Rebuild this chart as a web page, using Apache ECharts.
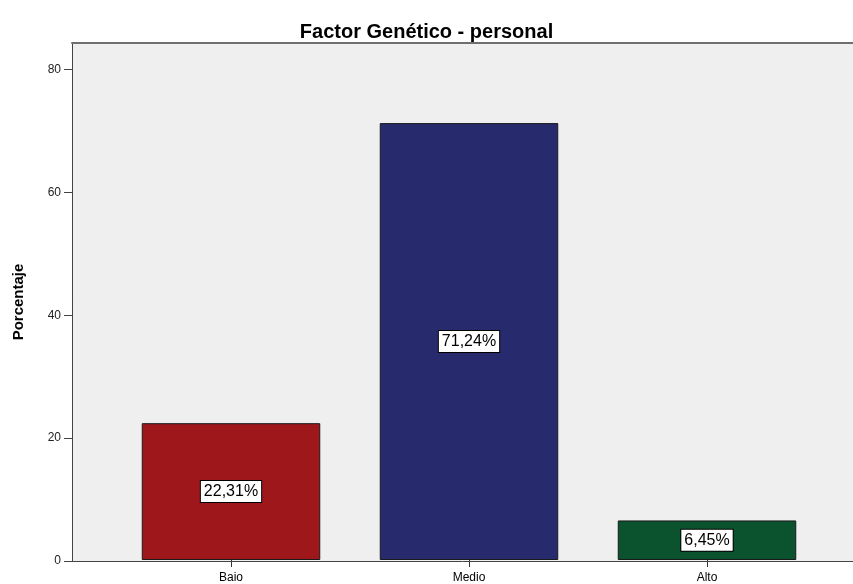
<!DOCTYPE html>
<html>
<head>
<meta charset="utf-8">
<script src="https://cdn.jsdelivr.net/npm/echarts@6/dist/echarts.min.js"></script>
<style>
  html, body { margin: 0; padding: 0; background: #fff; }
  #chart { width: 853px; height: 584px; }
</style>
</head>
<body>
<div id="chart"></div>
<script>
// datos del gráfico
const categories = ['Baio', 'Medio', 'Alto']
const values = [22.31, 71.24, 6.45]
const barColors = ['#9E181B', '#282A6E', '#0B522E']
const yTicks = [0, 20, 40, 60, 80]

const chart = echarts.init(document.getElementById('chart'))

const option = {
    backgroundColor: '#fff',
    animation: false,
    title: {
        text: 'Factor Genético - personal',
        left: 'center',
        top: 17,
        textStyle: {
            fontFamily: 'Liberation Sans, Arial',
            fontSize: 20,
            fontWeight: 'bold',
            color: '#000'
        }
    },
    grid: [
        // fondo gris y eje Y
        {
            left: 72, right: -2, top: 43, bottom: 23,
            show: true,
            backgroundColor: '#EFEFEF',
            borderWidth: 0
        },
        // barras
        {
            left: 112, right: 27, top: 43, bottom: 23
        }
    ],
    xAxis: [
        {
            gridIndex: 0,
            type: 'value',
            min: 0, max: 1,
            position: 'top',
            axisLine: { show: true, onZero: false, lineStyle: { color: '#6f6f6f', width: 2 } },
            axisTick: { show: false },
            axisLabel: { show: false },
            splitLine: { show: false }
        },
        {
            gridIndex: 1,
            type: 'category',
            data: categories,
            axisLine: { show: false },
            axisTick: { show: true, alignWithLabel: true, length: 7, lineStyle: { color: '#333', width: 1 } },
            axisLabel: {
                margin: 12,
                fontFamily: 'Liberation Sans, Arial',
                fontSize: 12,
                color: '#000'
            },
            splitLine: { show: false }
        }
    ],
    yAxis: [
        {
            gridIndex: 0,
            type: 'value',
            min: yTicks[0],
            max: 84.3,
            interval: 20,
            name: 'Porcentaje',
            nameLocation: 'middle',
            nameGap: 46,
            nameTextStyle: {
                fontFamily: 'Liberation Sans, Arial',
                fontSize: 15,
                fontWeight: 'bold',
                color: '#000'
            },
            axisLine: { show: true, lineStyle: { color: '#444', width: 1 } },
            axisTick: { show: true, length: 8, lineStyle: { color: '#444' } },
            axisLabel: {
                margin: 11,
                showMaxLabel: false,
                fontFamily: 'Liberation Sans, Arial',
                fontSize: 12,
                color: '#222'
            },
            splitLine: { show: false }
        },
        {
            gridIndex: 1,
            type: 'value',
            min: 0,
            max: 84.3,
            show: false
        }
    ],
    series: [
        {
            // línea base del eje X
            type: 'line',
            xAxisIndex: 0,
            yAxisIndex: 0,
            data: [],
            markLine: {
                silent: true,
                symbol: 'none',
                label: { show: false },
                lineStyle: { color: '#444', width: 1, type: 'solid' },
                data: [{ yAxis: 0 }]
            }
        },
        {
            type: 'bar',
            xAxisIndex: 1,
            yAxisIndex: 1,
            barCategoryGap: '25%',
            data: values.map((v, i) => ({
                value: v,
                itemStyle: { color: barColors[i] }
            })),
            itemStyle: { borderColor: '#1a1a1a', borderWidth: 1 },
            label: {
                show: true,
                position: 'inside',
                formatter: (p) => p.value.toFixed(2).replace('.', ',') + '%',
                fontFamily: 'Liberation Sans, Arial',
                fontSize: 16,
                color: '#000',
                backgroundColor: '#fff',
                borderColor: '#000',
                borderWidth: 1,
                padding: [3, 3, 2, 3]
            }
        }
    ]
}
chart.setOption(option)
</script>
</body>
</html>
